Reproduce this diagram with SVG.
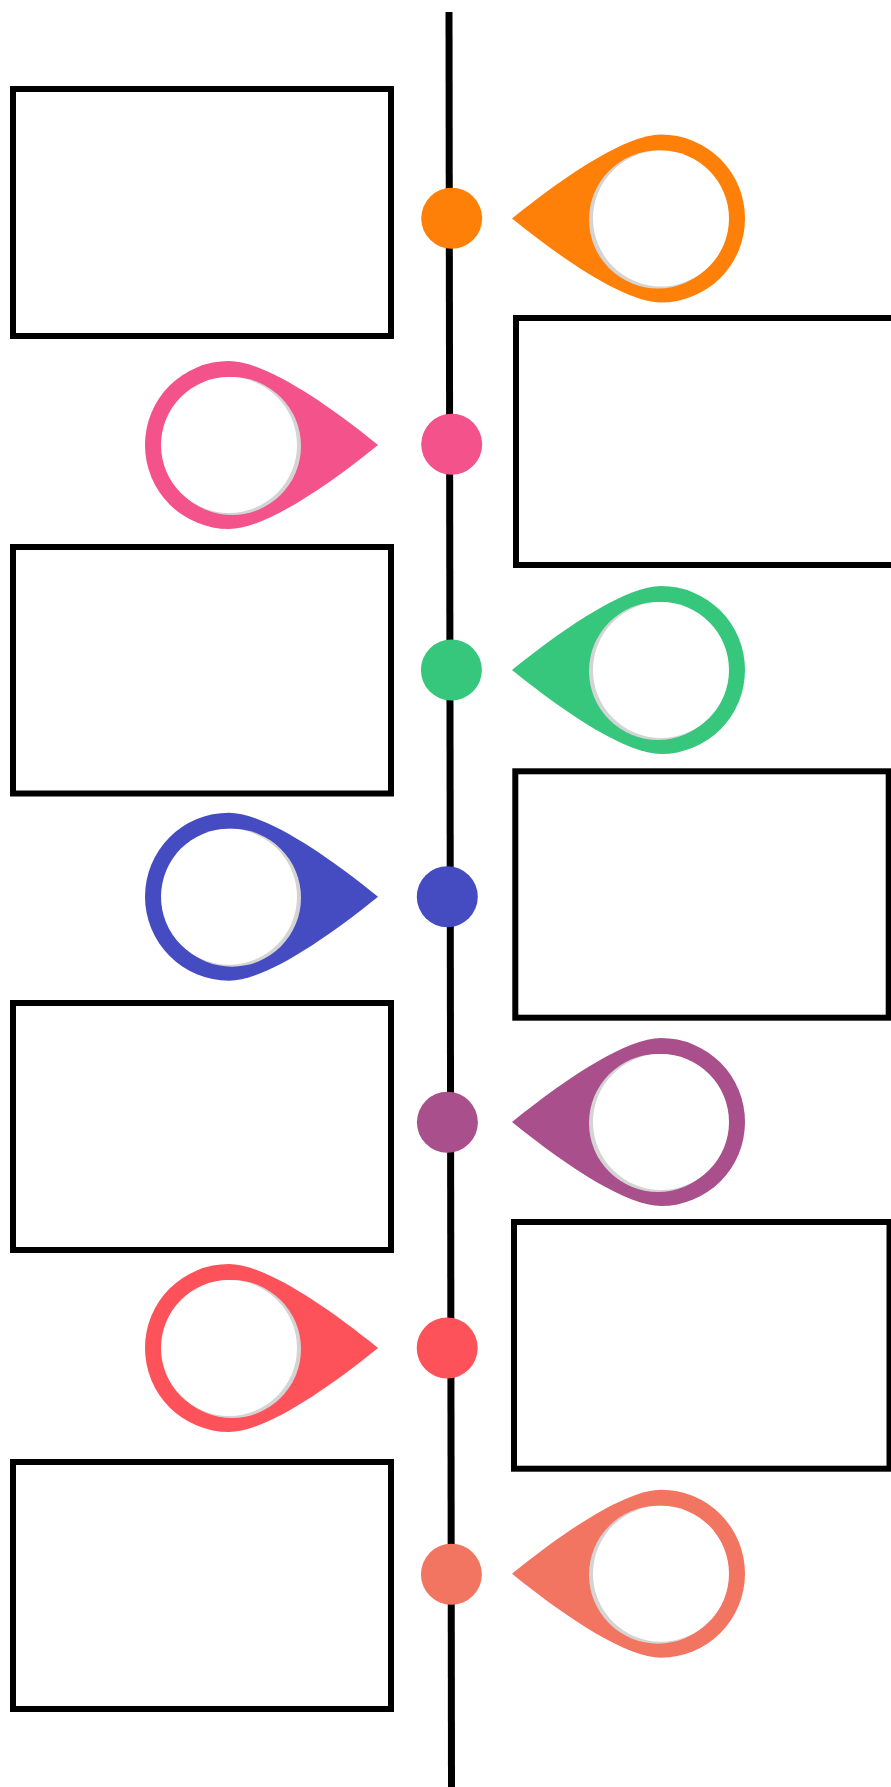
<svg xmlns="http://www.w3.org/2000/svg" width="891" height="1787" viewBox="0 0 891 1787">
  <style>
    .box { fill: #ffffff; stroke: #000000; stroke-width: 6; }
    .spine { stroke: #000000; stroke-width: 7; fill: none; }
    .hole { fill: #ffffff; }
    .shade { fill: #d4d4d4; }
  </style>
  <defs>
    <path id="drop" d="M0,-84 C33,-84 91,-47 149,0 C91,47 33,84 0,84 A84,84 0 0 1 0,-84 Z"/>
    <g id="inner">
      <circle class="shade" cx="3" cy="1" r="69"/>
      <circle class="hole" cx="0" cy="0" r="68"/>
    </g>
  </defs>
  <rect width="891" height="1787" fill="#ffffff"/>

  <g id="connectors">
    <line class="spine" x1="449" y1="12" x2="451.5" y2="1787"/>
  </g>

  <g id="box-l1"><rect class="box" x="13" y="89" width="378" height="247"/></g>
  <g id="box-r1"><rect class="box" x="516" y="318" width="390" height="247"/></g>
  <g id="box-l2"><rect class="box" x="13" y="547" width="378" height="246.5"/></g>
  <g id="box-r2"><rect class="box" x="515.3" y="771.3" width="373.4" height="246.4"/></g>
  <g id="box-l3"><rect class="box" x="13" y="1003" width="378" height="247"/></g>
  <g id="box-r3"><rect class="box" x="514" y="1222" width="375.5" height="246.7"/></g>
  <g id="box-l4"><rect class="box" x="13" y="1462" width="378" height="247"/></g>

  <g id="node-1">
    <circle cx="451.7" cy="218.3" r="30.5" fill="#FF8008"/>
    <g transform="translate(661,218.5) scale(-1,1)">
      <use href="#drop" fill="#FF8008"/>
      <use href="#inner"/>
    </g>
  </g>
  <g id="node-2">
    <circle cx="451.7" cy="444.3" r="30.5" fill="#F3528A"/>
    <g transform="translate(229,445)">
      <use href="#drop" fill="#F3528A"/>
      <use href="#inner"/>
    </g>
  </g>
  <g id="node-3">
    <circle cx="451.4" cy="670" r="30.5" fill="#36C77C"/>
    <g transform="translate(661,670) scale(-1,1)">
      <use href="#drop" fill="#36C77C"/>
      <use href="#inner"/>
    </g>
  </g>
  <g id="node-4">
    <circle cx="447.3" cy="896.7" r="30.5" fill="#454CC2"/>
    <g transform="translate(229,896.7)">
      <use href="#drop" fill="#454CC2"/>
      <use href="#inner"/>
    </g>
  </g>
  <g id="node-5">
    <circle cx="447.4" cy="1122.3" r="30.5" fill="#A9508C"/>
    <g transform="translate(661,1122) scale(-1,1)">
      <use href="#drop" fill="#A9508C"/>
      <use href="#inner"/>
    </g>
  </g>
  <g id="node-6">
    <circle cx="447.2" cy="1348" r="30.5" fill="#FE525A"/>
    <g transform="translate(229,1348)">
      <use href="#drop" fill="#FE525A"/>
      <use href="#inner"/>
    </g>
  </g>
  <g id="node-7">
    <circle cx="451.4" cy="1574.3" r="30.5" fill="#F27562"/>
    <g transform="translate(661,1573.7) scale(-1,1)">
      <use href="#drop" fill="#F27562"/>
      <use href="#inner"/>
    </g>
  </g>
</svg>
